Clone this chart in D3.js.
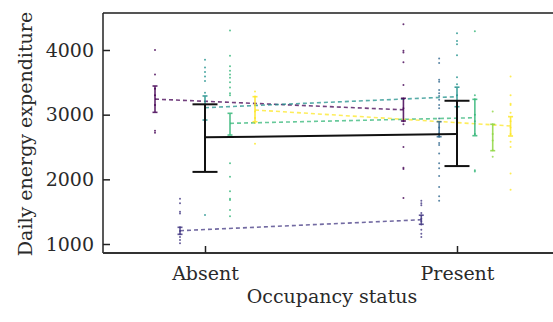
<!DOCTYPE html>
<html>
<head>
<meta charset="utf-8">
<script src="https://cdn.jsdelivr.net/npm/d3@7"></script>
<style>
  body { margin: 0; background: #fff; }
  svg { display: block; }
</style>
</head>
<body>
<div id="chart"></div>
<script>
const categories = ['Absent', 'Present']
const groups = ['G1', 'G2', 'G3', 'G4', 'G5', 'G6', 'G7']
const yTicks = [1000, 2000, 3000, 4000]

// group means and confidence limits, null = group not sampled
const meanAbsent = [3240, 1206, null, 3108, 2866, null, 3072]
const lowAbsent = [3036, 1150, null, 2917, 2685, null, 2891]
const highAbsent = [3443, 1258, null, 3289, 3021, null, 3278]
const meanPresent = [3075, 1375, 2775, 3278, 2953, 2650, 2825]
const lowPresent = [2902, 1305, 2659, 3123, 2675, 2443, 2670]
const highPresent = [3253, 1445, 2891, 3425, 3237, 2851, 2969]

// overall estimate
const overallMean = [2650, 2700]
const overallLow = [2115, 2205]
const overallHigh = [3160, 3215]

// raw daily values
const pointsAbsent = [
  [4000, 3620, 3400, 3300, 3150, 2750, 2720],
  [1700, 1630, 1500, 1470, 1260, 1200, 1150, 1110, 1060, 1010],
  [],
  [3850, 3730, 3660, 3590, 3520, 3340, 3100, 2900, 1450],
  [4300, 3910, 3750, 3680, 3620, 3570, 3500, 3420, 3330, 3300, 2250, 2040, 1815, 1700, 1680, 1525, 1430],
  [],
  [3360, 3280, 3150, 3050, 2950, 2870, 2550]
]
const pointsPresent = [
  [4400, 3990, 3960, 3810, 3460, 3250, 3100, 2900, 2850, 2500, 2180, 2160, 1710],
  [1670, 1630, 1600, 1480, 1440, 1390, 1350, 1300, 1220, 1160, 1110],
  [3870, 3800, 3540, 3510, 3380, 3330, 3290, 3230, 3150, 3100, 2940, 2800, 2710, 2690, 2660, 2560, 2530, 2400, 2250, 2170, 2050, 1880, 1740, 1670],
  [4260, 4140, 4090, 3920, 3580, 3470, 3300, 3200],
  [4290, 3300, 3240, 3000, 2900, 2700, 2140, 2120],
  [3050, 2850, 2700, 2600, 2450, 2350],
  [3590, 3300, 3170, 3150, 3030, 2900, 2800, 2700, 2580, 2500, 2090, 1840]
]

const width = 553
const height = 322
const font = 'DejaVu Serif'
const fontSize = 19
const textColor = '#2a2a2a'
const dodge = 125

const colors = d3.quantize(d3.interpolateViridis, groups.length)

const svg = d3.select('#chart')
  .append('svg')
  .attr('width', width)
  .attr('height', height)

const x = d3.scalePoint()
  .domain(categories)
  .range([205, 457])

const y = d3.scaleLinear()
  .domain([1000, 4000])
  .range([244, 50])

const plotLeft = 103
const plotTop = 13
const plotBottom = 253

const stats = {
  Absent: { mean: meanAbsent, low: lowAbsent, high: highAbsent, pts: pointsAbsent },
  Present: { mean: meanPresent, low: lowPresent, high: highPresent, pts: pointsPresent }
}

// dodge position of each group within a category
function xPos(cat, gi) {
  const present = groups.map((g, i) => i).filter(i => stats[cat].mean[i] != null)
  const k = present.indexOf(gi)
  const n = present.length
  return x(cat) + (k - (n - 1) / 2) * dodge / n
}

// raw points
categories.forEach(cat => {
  groups.forEach((g, gi) => {
    svg.append('g')
      .selectAll('circle')
      .data(stats[cat].pts[gi])
      .enter()
      .append('circle')
      .attr('cx', xPos(cat, gi))
      .attr('cy', d => y(d))
      .attr('r', 1)
      .attr('fill', colors[gi])
      .attr('opacity', 0.8)
  })
})

// dashed connectors between categories
groups.forEach((g, gi) => {
  if (meanAbsent[gi] == null || meanPresent[gi] == null) return
  svg.append('line')
    .attr('x1', xPos('Absent', gi))
    .attr('y1', y(meanAbsent[gi]))
    .attr('x2', xPos('Present', gi))
    .attr('y2', y(meanPresent[gi]))
    .attr('stroke', colors[gi])
    .attr('stroke-width', 1.6)
    .attr('stroke-dasharray', '4,3')
    .attr('opacity', 0.75)
})

// group error bars
categories.forEach(cat => {
  groups.forEach((g, gi) => {
    const s = stats[cat]
    if (s.mean[gi] == null) return
    const cx = xPos(cat, gi)
    const bar = svg.append('g')
      .attr('stroke', colors[gi])
      .attr('stroke-width', 1.6)
      .attr('opacity', 0.85)
    bar.append('line')
      .attr('x1', cx).attr('x2', cx)
      .attr('y1', y(s.low[gi])).attr('y2', y(s.high[gi]))
    ;[s.low[gi], s.high[gi]].forEach(v => {
      bar.append('line')
        .attr('x1', cx - 2.5).attr('x2', cx + 2.5)
        .attr('y1', y(v)).attr('y2', y(v))
    })
  })
})

// overall estimate
svg.append('line')
  .attr('x1', x('Absent'))
  .attr('y1', y(overallMean[0]))
  .attr('x2', x('Present'))
  .attr('y2', y(overallMean[1]))
  .attr('stroke', '#111')
  .attr('stroke-width', 2)

categories.forEach((cat, ci) => {
  const cx = x(cat)
  const bar = svg.append('g')
    .attr('stroke', '#111')
    .attr('stroke-width', 2)
  bar.append('line')
    .attr('x1', cx).attr('x2', cx)
    .attr('y1', y(overallLow[ci])).attr('y2', y(overallHigh[ci]))
  ;[overallLow[ci], overallHigh[ci]].forEach(v => {
    bar.append('line')
      .attr('x1', cx - 12.5).attr('x2', cx + 12.5)
      .attr('y1', y(v)).attr('y2', y(v))
  })
})

// frame
svg.append('line')
  .attr('x1', plotLeft).attr('x2', width)
  .attr('y1', plotTop).attr('y2', plotTop)
  .attr('stroke', '#555')
  .attr('stroke-width', 2)

// Y axis
const yAxis = svg.append('g')
  .attr('transform', `translate(${plotLeft}, 0)`)
  .call(d3.axisLeft(y).tickValues(yTicks).tickSize(-7).tickPadding(9).tickFormat(d3.format('d')))
yAxis.select('.domain')
  .attr('d', `M0,${plotTop}V${plotBottom}`)
  .attr('stroke', '#222')
  .attr('stroke-width', 1.5)
yAxis.selectAll('.tick line').attr('stroke', '#222').attr('stroke-width', 1.5)
yAxis.selectAll('.tick text')
  .attr('font-family', font)
  .attr('font-size', fontSize)
  .attr('fill', textColor)

// X axis
const xAxis = svg.append('g')
  .attr('transform', `translate(0, ${plotBottom})`)
  .call(d3.axisBottom(x).tickSize(-7).tickPadding(14))
xAxis.select('.domain')
  .attr('d', `M${plotLeft},0H${width}`)
  .attr('stroke', '#333')
  .attr('stroke-width', 2)
xAxis.selectAll('.tick line').attr('stroke', '#222').attr('stroke-width', 1.5)
xAxis.selectAll('.tick text')
  .attr('font-family', font)
  .attr('font-size', fontSize)
  .attr('fill', textColor)

// axis titles
svg.append('text')
  .attr('x', 332)
  .attr('y', 303)
  .attr('text-anchor', 'middle')
  .attr('font-family', font)
  .attr('font-size', fontSize)
  .attr('fill', textColor)
  .text('Occupancy status')

svg.append('text')
  .attr('transform', 'rotate(-90)')
  .attr('x', -134)
  .attr('y', 32)
  .attr('text-anchor', 'middle')
  .attr('font-family', font)
  .attr('font-size', fontSize)
  .attr('fill', textColor)
  .text('Daily energy expenditure')
</script>
</body>
</html>
